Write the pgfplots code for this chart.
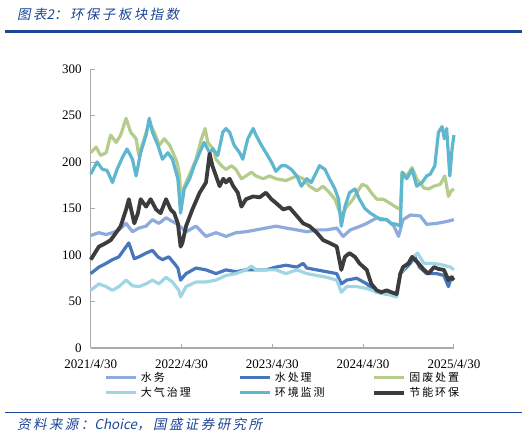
\documentclass[border=0pt]{standalone}
\usepackage{fontspec}
\setmainfont{Liberation Serif}
\newfontfamily\cjk[LetterSpace=18]{Noto Sans CJK SC}
\newfontfamily\cjkit[FakeSlant=0.2,LetterSpace=18]{Noto Sans CJK SC}
\newfontfamily\latit[FakeSlant=0.2]{Noto Sans CJK SC}
\usepackage{pgfplots}
\pgfplotsset{compat=1.18}
\usepackage{pgfplotstable}

\definecolor{gsblue}{RGB}{30,70,150}
\definecolor{axisgray}{RGB}{170,170,170}
\definecolor{csw}{RGB}{143,170,220}
\definecolor{cscl}{RGB}{72,118,188}
\definecolor{cgf}{RGB}{180,204,140}
\definecolor{cdq}{RGB}{160,214,228}
\definecolor{chj}{RGB}{94,183,206}
\definecolor{cjn}{RGB}{60,60,60}

% t = years since 2021/4/30
\pgfplotstableread{
t v
0.00 121
0.09 124
0.17 122
0.24 124
0.31 127
0.39 134
0.46 125
0.53 129
0.61 131
0.68 138
0.75 134
0.83 140
0.90 136
0.94 134
0.98 131
1.05 125
1.16 131
1.27 120
1.38 124
1.49 120
1.60 124
1.71 125
1.82 127
1.93 129
2.04 131
2.15 129
2.27 127
2.38 125
2.49 127
2.60 127
2.71 129
2.78 120
2.86 127
2.97 131
3.04 134
3.15 140
3.26 138
3.34 131
3.39 120
3.44 138
3.52 143
3.63 142
3.70 133
3.81 134
3.92 136
4.00 138
}\sw

\pgfplotstableread{
t v
0.00 80
0.09 87
0.17 91
0.24 95
0.31 98
0.39 109
0.42 113
0.48 96
0.53 98
0.61 102
0.68 105
0.74 98
0.79 95
0.86 98
0.92 91
0.96 86
0.99 73
1.05 80
1.16 86
1.27 84
1.38 80
1.49 84
1.60 82
1.71 84
1.82 84
1.93 84
2.04 87
2.15 89
2.27 87
2.34 91
2.38 86
2.49 84
2.60 82
2.71 80
2.76 69
2.82 73
2.93 75
3.04 69
3.15 60
3.26 58
3.37 57
3.41 80
3.52 91
3.57 98
3.62 87
3.70 80
3.81 80
3.89 78
3.94 66
3.97 76
4.00 76
}\scl

\pgfplotstableread{
t v
0.00 210
0.06 216
0.11 207
0.17 210
0.22 229
0.28 221
0.33 229
0.39 247
0.44 232
0.50 225
0.53 207
0.59 225
0.645 243
0.70 232
0.756 218
0.81 225
0.87 218
0.92 207
0.95 200
0.98 185
0.99 163
1.05 178
1.10 189
1.16 203
1.22 225
1.26 236
1.29 221
1.35 214
1.38 203
1.44 196
1.49 192
1.55 196
1.60 192
1.66 182
1.71 185
1.77 189
1.82 185
1.90 182
1.97 185
2.04 182
2.15 180
2.27 185
2.34 182
2.41 174
2.49 169
2.56 174
2.63 167
2.69 160
2.73 149
2.76 142
2.82 152
2.89 160
2.93 167
2.99 176
3.04 174
3.09 167
3.15 160
3.22 160
3.29 156
3.37 151
3.41 149
3.43 189
3.48 185
3.54 194
3.59 182
3.67 172
3.72 171
3.78 174
3.85 176
3.90 185
3.94 163
3.97 169
4.00 171
}\gf

\pgfplotstableread{
t v
0.00 62
0.09 69
0.17 66
0.24 62
0.31 66
0.39 73
0.46 67
0.53 66
0.61 69
0.68 73
0.75 69
0.83 76
0.90 71
0.94 66
0.97 62
0.99 55
1.05 66
1.16 71
1.27 71
1.38 73
1.49 78
1.60 80
1.71 84
1.77 88
1.82 84
1.93 84
2.04 84
2.15 80
2.27 84
2.38 80
2.49 78
2.60 76
2.71 73
2.76 60
2.82 66
2.93 66
3.04 64
3.15 60
3.26 58
3.37 55
3.41 80
3.52 95
3.60 102
3.67 91
3.78 91
3.89 89
3.96 87
4.00 84
}\dq

\pgfplotstableread{
t v
0.00 187
0.07 200
0.13 192
0.18 191
0.24 178
0.29 192
0.35 205
0.40 214
0.46 203
0.50 185
0.55 210
0.61 229
0.645 247
0.68 232
0.74 218
0.79 203
0.85 210
0.90 203
0.96 182
0.99 145
1.03 171
1.09 182
1.14 196
1.20 210
1.25 221
1.31 210
1.345 214
1.40 207
1.455 232
1.49 236
1.53 232
1.58 218
1.64 210
1.675 203
1.73 225
1.79 236
1.82 229
1.88 218
1.93 210
1.99 200
2.04 190
2.10 196
2.15 196
2.21 192
2.27 185
2.32 174
2.38 182
2.43 178
2.49 190
2.52 196
2.58 192
2.63 182
2.69 171
2.73 160
2.76 131
2.80 152
2.85 167
2.91 171
2.96 160
3.02 150
3.08 145
3.13 142
3.19 138
3.26 138
3.31 134
3.37 133
3.41 131
3.43 189
3.48 182
3.54 192
3.59 174
3.65 178
3.70 185
3.74 187
3.79 196
3.83 232
3.87 238
3.895 225
3.92 236
3.955 185
3.98 214
4.00 229
}\hj

\pgfplotstableread{
t v
0.00 95
0.02 98
0.09 109
0.17 113
0.22 116
0.28 124
0.33 131
0.39 149
0.42 160
0.48 134
0.52 145
0.55 160
0.61 152
0.66 160
0.72 149
0.77 145
0.83 160
0.88 149
0.92 145
0.96 134
0.99 109
1.01 113
1.05 131
1.12 149
1.20 167
1.27 178
1.31 209
1.34 196
1.38 185
1.42 174
1.46 182
1.49 178
1.53 182
1.57 174
1.62 167
1.66 152
1.71 160
1.79 163
1.86 162
1.93 167
1.99 160
2.04 156
2.12 149
2.19 151
2.27 142
2.34 134
2.41 131
2.49 124
2.56 116
2.63 113
2.71 109
2.76 84
2.80 98
2.85 102
2.91 98
2.96 91
3.04 84
3.09 69
3.15 62
3.20 60
3.26 62
3.31 60
3.37 58
3.41 80
3.44 87
3.50 91
3.54 98
3.57 95
3.61 91
3.67 84
3.72 80
3.78 87
3.83 85
3.89 84
3.94 73
3.97 76
4.00 73
}\jn

\begin{document}
\begin{tikzpicture}
\path[use as bounding box] (0,0) rectangle (532bp,-438bp);
\node[anchor=base west, inner sep=0pt, text=gsblue,
  font=\cjkit\fontsize{13.5bp}{16bp}\selectfont] at (17bp,-19bp) {图表{\latit 2}：环保子板块指数};
\draw[gsblue, line width=2.2bp] (5bp,-31.5bp) -- (522bp,-31.5bp);

\begin{axis}[
  at={(90.7bp,-348bp)}, anchor=south west,
  scale only axis, width=363.2bp, height=279bp,
  xmin=0, xmax=4, ymin=0, ymax=300,
  axis lines*=left,
  axis line style={draw=axisgray, line width=1.2bp},
  xtick={0,1,2,3,4},
  xticklabels={2021/4/30,2022/4/30,2023/4/30,2024/4/30,2025/4/30},
  ytick={0,50,...,300},
  tick align=inside,
  major tick length=4bp,
  tick style={draw=axisgray, line width=1bp},
  xticklabel style={font=\fontsize{13bp}{15bp}\selectfont, inner sep=0pt, anchor=north, yshift=-12bp},
  yticklabel style={font=\fontsize{13bp}{15bp}\selectfont, inner sep=0pt, anchor=east, xshift=-9bp},
  /pgf/number format/assume math mode=true,
  clip=false,
  legend columns=3,
  legend style={at={(axis description cs:0.0374,-0.0882)}, anchor=north west,
    draw=none, fill=none, inner sep=0pt, outer sep=0pt,
    row sep=4bp, column sep=0pt,
    font=\cjk\fontsize{11bp}{13bp}\selectfont,
    cells={anchor=base west}, nodes={inner sep=0pt, outer sep=0pt}},
  legend image code/.code={\draw[#1] (0bp,4bp) -- (30bp,4bp); \path (33.4bp,0bp);},
  every axis plot/.append style={line join=round},
]
\addplot[csw, line width=3.2bp] table[x=t, y=v] {\sw};
\addlegendentry{\makebox[97.3bp][l]{水务}}
\addplot[cscl, line width=3.2bp] table[x=t, y=v] {\scl};
\addlegendentry{\makebox[97.3bp][l]{水处理}}
\addplot[cgf, line width=3.2bp] table[x=t, y=v] {\gf};
\addlegendentry{\makebox[97.3bp][l]{固废处置}}
\addplot[cdq, line width=3.2bp] table[x=t, y=v] {\dq};
\addlegendentry{\makebox[97.3bp][l]{大气治理}}
\addplot[chj, line width=3.2bp] table[x=t, y=v] {\hj};
\addlegendentry{\makebox[97.3bp][l]{环境监测}}
\addplot[cjn, line width=3.8bp] table[x=t, y=v] {\jn};
\addlegendentry{\makebox[97.3bp][l]{节能环保}}
\end{axis}

\draw[gsblue, line width=1.2bp] (5bp,-412.7bp) -- (522bp,-412.7bp);
\node[anchor=base west, inner sep=0pt, text=gsblue,
  font=\cjkit\fontsize{13.5bp}{16bp}\selectfont] at (17bp,-429.5bp) {资料来源：{\latit Choice}，国盛证券研究所};
\end{tikzpicture}
\end{document}
